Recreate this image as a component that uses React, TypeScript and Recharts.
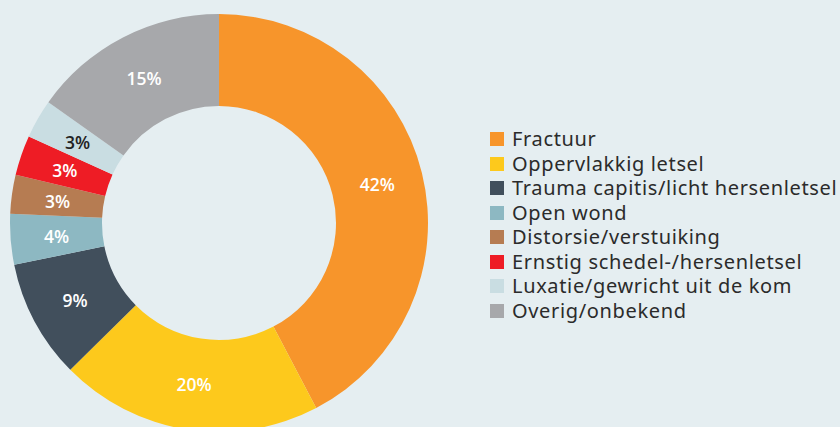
import React from "react";
import { PieChart, Pie, Cell, Legend } from "recharts";

const categories = [
  "Fractuur",
  "Oppervlakkig letsel",
  "Trauma capitis/licht hersenletsel",
  "Open wond",
  "Distorsie/verstuiking",
  "Ernstig schedel-/hersenletsel",
  "Luxatie/gewricht uit de kom",
  "Overig/onbekend",
];
const values = [42.3, 20.3, 9.2, 3.9, 3.0, 3.1, 3.0, 15.2];
const labels = ["42%", "20%", "9%", "4%", "3%", "3%", "3%", "15%"];
const colors = ["#F7952B", "#FDC91C", "#414F5C", "#8DB8C2", "#B67C52", "#EE1C25", "#C9DDE2", "#A7A8AB"];
const labelColors = ["#fff", "#fff", "#fff", "#fff", "#fff", "#fff", "#222", "#fff"];

const data = categories.map((name, i) => ({ name, value: values[i], label: labels[i] }));

const RAD = Math.PI / 180;
const renderLabel = (props: any) => {
  const { cx, cy, midAngle, innerRadius, outerRadius, index } = props;
  const r = (innerRadius + outerRadius) / 2;
  const x = cx + r * Math.cos(-midAngle * RAD);
  const y = cy + r * Math.sin(-midAngle * RAD);
  return (
    <text
      x={x}
      y={y}
      fill={labelColors[index]}
      textAnchor="middle"
      dominantBaseline="central"
      fontFamily="'Open Sans', sans-serif"
      fontWeight={600}
      fontSize={17.5}
    >
      {labels[index]}
    </text>
  );
};

const renderLegend = () => (
  <div style={{ fontFamily: "'Noto Sans', sans-serif", fontSize: 20, letterSpacing: 0.65, color: "#2B2B2B" }}>
    {categories.map((c, i) => (
      <div key={c} style={{ display: "flex", alignItems: "center", height: 24.5 }}>
        <div style={{ width: 14, height: 14, background: colors[i], marginRight: 8, flexShrink: 0 }} />
        <span style={{ whiteSpace: "nowrap", lineHeight: "24.5px" }}>{c}</span>
      </div>
    ))}
  </div>
);

export default function App() {
  return (
    <div style={{ position: "fixed", left: 0, top: 0, width: 840, height: 427, background: "#E5EEF1" }}>
      <PieChart width={840} height={427} margin={{ top: 0, right: 0, bottom: 0, left: 0 }}>
        <Pie
          data={data}
          dataKey="value"
          nameKey="name"
          cx={219}
          cy={223}
          innerRadius={117}
          outerRadius={209}
          startAngle={90}
          endAngle={-270}
          stroke="none"
          label={renderLabel}
          labelLine={false}
          isAnimationActive={false}
        >
          {data.map((d, i) => (
            <Cell key={d.name} fill={colors[i]} />
          ))}
        </Pie>
        <Legend
          content={renderLegend}
          wrapperStyle={{ position: "absolute", left: 490, top: 127, width: 350 }}
        />
      </PieChart>
    </div>
  );
}
